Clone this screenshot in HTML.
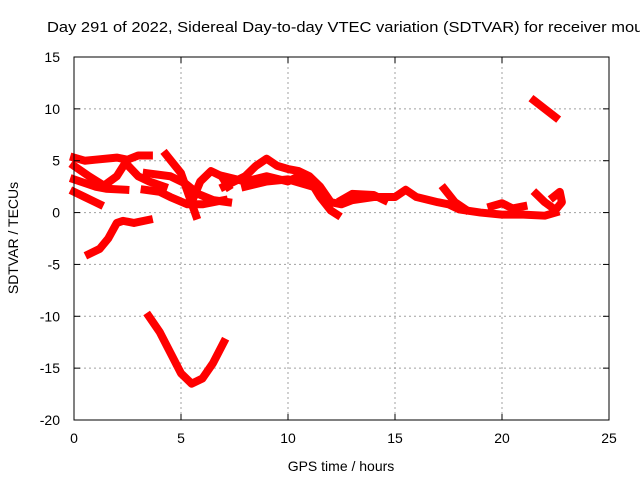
<!DOCTYPE html>
<html><head><meta charset="utf-8"><style>
html,body{margin:0;padding:0;background:#fff;overflow:hidden}
svg{display:block;font-family:"Liberation Sans",sans-serif}
</style></head><body>
<svg id="c" width="640" height="480">
<text x="47" y="32" font-size="14.5" textLength="600" lengthAdjust="spacingAndGlyphs">Day 291 of 2022, Sidereal Day-to-day VTEC variation (SDTVAR) for receiver moul</text>
<g id="grid"></g>
<g id="tracks"></g>
<rect x="74" y="57" width="535" height="363" fill="none" stroke="#000" stroke-width="1"/>
<g id="axes"></g>
<text x="341" y="471" font-size="14" text-anchor="middle">GPS time / hours</text>
<text transform="translate(18,238) rotate(-90)" font-size="14" text-anchor="middle">SDTVAR / TECUs</text>
</svg>
<script>
const xTicks=[0,5,10,15,20,25];
const yTicks=[15,10,5,0,-5,-10,-15,-20];
const track1=[[0,5.3],[0.5,5],[1,5.1],[2,5.3],[2.5,5.1],[3,5.5],[3.5,5.5]];
const track2=[[0,4.5],[0.7,3.5],[1.4,2.6],[2,3.5],[2.4,4.8],[3,3.5],[3.5,3],[4.2,2.5]];
const track3=[[0,3.2],[1,2.5],[1.5,2.3],[2.4,2.2]];
const track4=[[0,2],[0.5,1.5],[1,1],[1.2,0.8]];
const track5=[[0.7,-4],[1.2,-3.5],[1.6,-2.5],[2,-1],[2.3,-0.8],[2.8,-1],[3.5,-0.7]];
const track6=[[3.5,-10],[4,-11.5],[4.5,-13.5],[5,-15.5],[5.5,-16.5],[6,-16],[6.5,-14.5],[7,-12.5]];
const track7=[[3.4,3.8],[4.5,3.5],[5.2,2.8],[5.8,1.8],[6.5,1.2],[7.2,1]];
const track8=[[4.3,5.6],[5,3.8],[5.7,-0.3]];
const track9=[[3.3,2.2],[4,2],[4.5,1.5],[5.3,0.8],[6,0.8],[7,1.2]];
const track10=[[5.5,1],[5.9,3],[6.4,4],[6.9,3.5],[7.2,2.5]];
const track11=[[7,2.5],[7.5,3],[8,3.5],[8.5,4.5],[9,5.2],[9.5,4.5],[10,4.2],[10.5,4],[11,3.5],[11.5,2.5],[12,1],[12.5,0.8],[13,1.2],[14,1.5],[15,1.5],[15.5,2.2],[16,1.5],[17,1],[17.5,0.8],[18,0.3],[19,0],[20,-0.2],[21,-0.2],[22,-0.3],[22.5,0]];
const track12=[[7,3.5],[8,3],[9,3.5],[10,3],[10.5,3.5],[11,3.2],[11.5,1.5],[12,0.2],[12.3,-0.2]];
const track13=[[8,2.5],[9,3],[10,3.2],[11,2.6]];
const track14=[[21.5,10.8],[22,10],[22.5,9.2]];
const track15=[[22.4,1.5],[22.7,2],[22.8,1],[22.6,0.5]];
const track16=[[17.3,2.3],[17.8,1],[18.3,0.3]];
const track17=[[21.6,1.8],[22,1],[22.4,0.4]];
const track18=[[19.5,0.6],[20,0.9],[20.5,0.4],[21,0.6]];
const track19=[[12.5,1.2],[13,1.8],[14,1.7],[14.5,1.2]];
const tracks=[track1,track2,track3,track4,track5,track6,track7,track8,track9,track10,track11,track12,track13,track14,track15,track16,track17,track18,track19];
const NS='http://www.w3.org/2000/svg';
const X0=74,X1=609,Y0=420,Y1=57;
const xs=h=>X0+(h-0)/(25-0)*(X1-X0);
const ys=v=>Y0-(v+20)/(35)*(Y0-Y1);
const grid=document.getElementById('grid'),axes=document.getElementById('axes'),tg=document.getElementById('tracks');
function mk(t,a,p){const e=document.createElementNS(NS,t);for(const k in a)e.setAttribute(k,a[k]);p.appendChild(e);return e;}
xTicks.forEach(t=>{const x=xs(t);
 if(t>0&&t<25){const l=mk('line',{x1:x,x2:x,y1:Y1,y2:Y0,stroke:'#a0a0a0','stroke-dasharray':'2,3'},grid);
 
 }
 mk('line',{x1:x,x2:x,y1:Y0,y2:Y0-6,stroke:'#000'},axes);mk('line',{x1:x,x2:x,y1:Y1,y2:Y1+6,stroke:'#000'},axes);
 const tx=mk('text',{x:x,y:Y0+23,'font-size':14,'text-anchor':'middle'},axes);tx.textContent=t;
 
 });
yTicks.forEach(t=>{const y=ys(t);
 if(t>-20&&t<15){const l=mk('line',{x1:X0,x2:X1,y1:y,y2:y,stroke:'#a0a0a0','stroke-dasharray':'2,3'},grid);
 
 }
 mk('line',{x1:X0,x2:X0+6,y1:y,y2:y,stroke:'#000'},axes);mk('line',{x1:X1,x2:X1-6,y1:y,y2:y,stroke:'#000'},axes);
 const tx=mk('text',{x:X0-14,y:y+5,'font-size':14,'text-anchor':'end'},axes);tx.textContent=t;
 
 });
tracks.forEach((tr,i)=>{const p=mk('polyline',{points:tr.map(d=>xs(d[0])+','+ys(d[1])).join(' '),fill:'none',stroke:'#ff0000','stroke-width':8,'stroke-linejoin':'round','stroke-linecap':'square'},tg);
 
 });
</script>
</body></html>
